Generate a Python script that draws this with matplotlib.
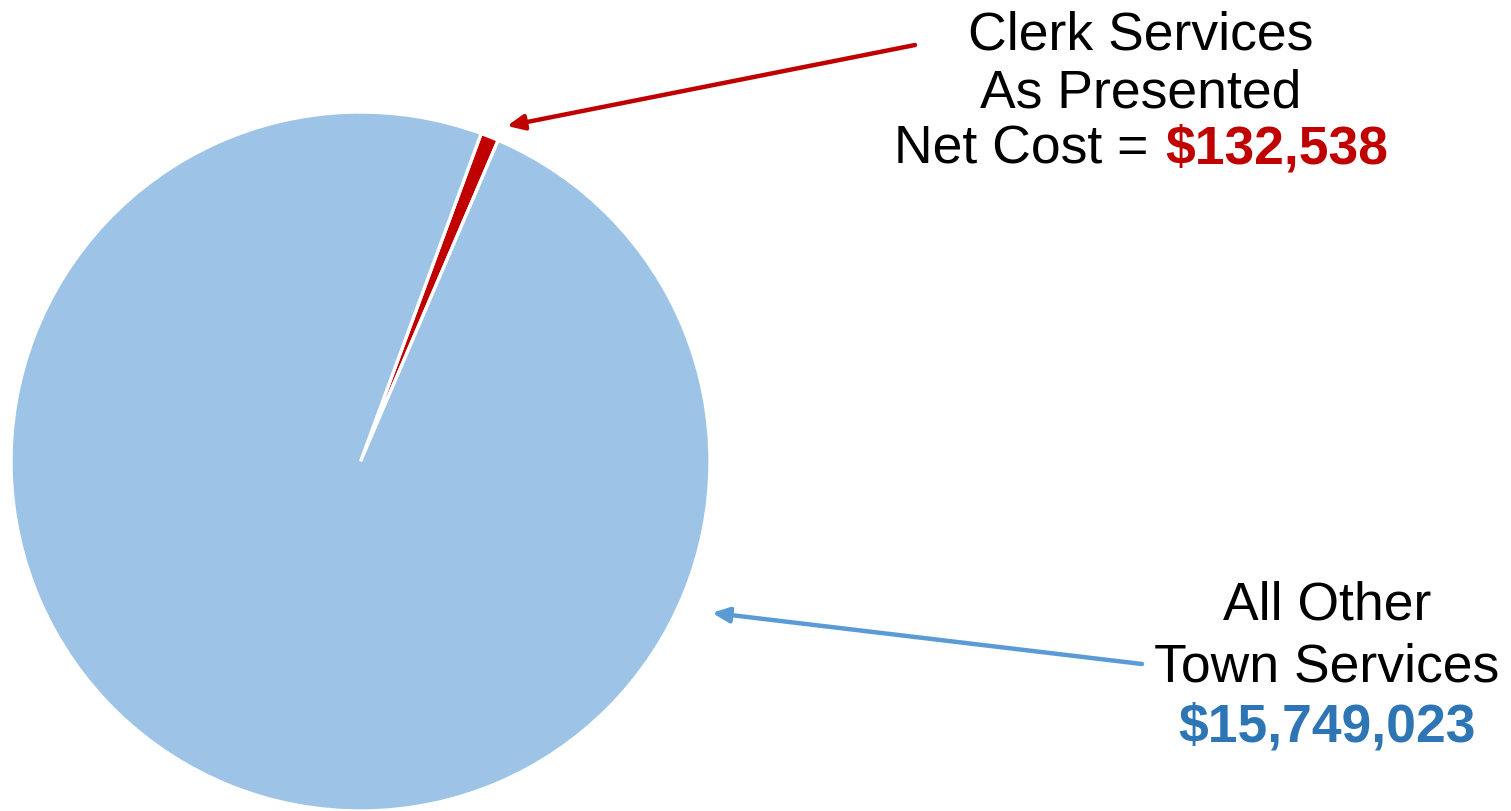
import matplotlib
matplotlib.use("Agg")
from matplotlib import pyplot as plt

# Chart data.
labels = ["Clerk Services", "All Other Town Services"]
values = [132538, 15749023]
colors = ["#C00000", "#9DC3E6"]

# Figure in pixels (dpi 100).
W, H = 1511, 812
plt.rcParams['font.family'] = ['Liberation Sans', 'DejaVu Sans']
fig = plt.figure(figsize=(W / 100, H / 100), dpi=100)

# Pie axes, placed so the circle sits at the left edge.
ax = fig.add_axes([11 / W, 0.0, 699 / W, 699 / H])
ax.pie(values, colors=colors, startangle=66.8, counterclock=True,
       wedgeprops=dict(edgecolor="white", linewidth=2.4))
ax.set_xlim(-1, 1)
ax.set_ylim(-1, 1)
ax.set_aspect("equal")
ax.axis("off")


# Helper: pixel coordinates from the top-left corner to figure fraction.
def fp(x, y):
    return (x / W, 1 - y / H)


fs = 38.5
arrow = "-|>,head_length=1.0,head_width=0.45"

# Clerk label and arrow.
ax.annotate("", xy=(0.419, 0.96), xycoords="data",
            xytext=fp(915, 46), textcoords="figure fraction",
            arrowprops=dict(arrowstyle=arrow, color="#C00000", lw=3.2,
                            shrinkA=0, shrinkB=0),
            annotation_clip=False)
fig.text(*fp(1141, 50), "Clerk Services", ha="center", va="baseline", fontsize=fs)
fig.text(*fp(1141, 107), "As Presented", ha="center", va="baseline", fontsize=fs)
fig.text(*fp(1148, 164), "Net Cost =", ha="right", va="baseline", fontsize=fs)
fig.text(*fp(1165, 164), "${:,}".format(values[0]), ha="left", va="baseline",
         fontsize=fs, fontweight="bold", color="#C00000")

# Other services label and arrow.
ax.annotate("", xy=(1.006, -0.433), xycoords="data",
            xytext=fp(1142, 665), textcoords="figure fraction",
            arrowprops=dict(arrowstyle=arrow, color="#5B9BD5", lw=3.2,
                            shrinkA=0, shrinkB=0),
            annotation_clip=False)
fig.text(*fp(1327, 619), "All Other", ha="center", va="baseline", fontsize=fs)
fig.text(*fp(1327, 682), "Town Services", ha="center", va="baseline", fontsize=fs)
fig.text(*fp(1327, 742), "${:,}".format(values[1]), ha="center", va="baseline",
         fontsize=fs, fontweight="bold", color="#2E75B6")

fig.savefig("out.png", dpi=100)
